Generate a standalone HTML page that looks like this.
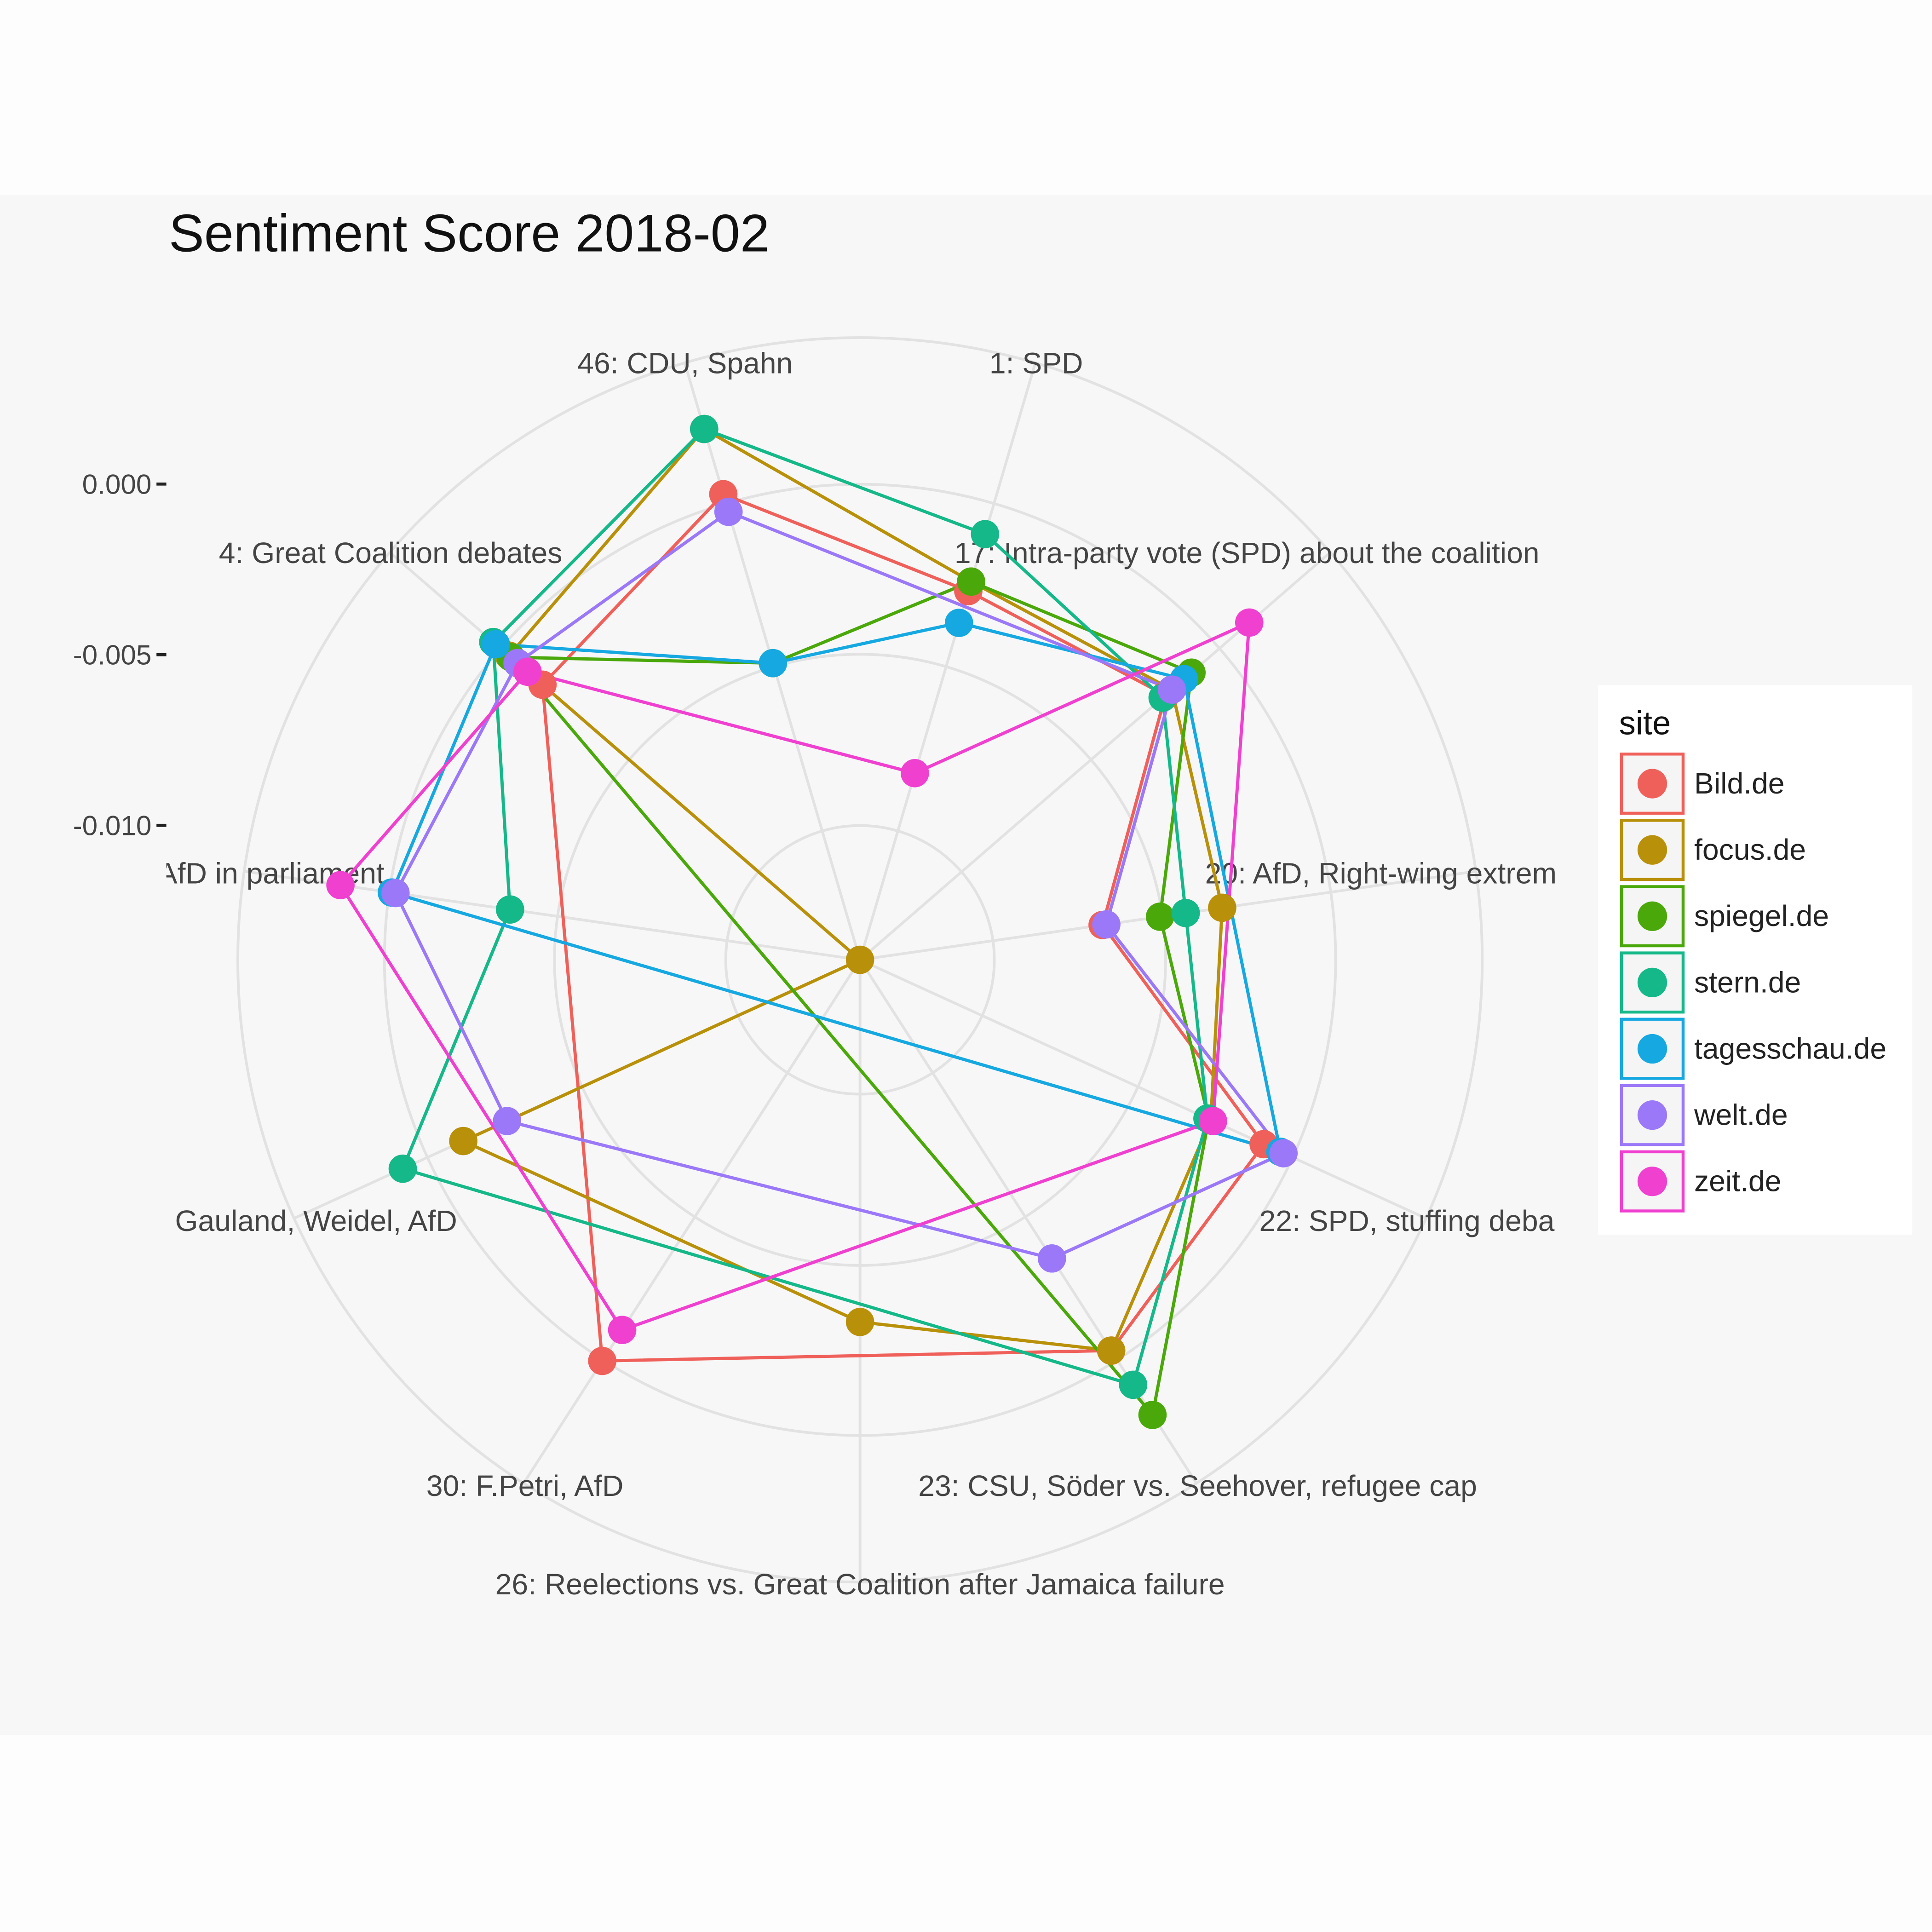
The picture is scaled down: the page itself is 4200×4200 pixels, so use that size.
<!DOCTYPE html>
<html><head><meta charset="utf-8"><style>
html,body{margin:0;padding:0;background:#fdfdfd}
svg{display:block}
text{font-family:"Liberation Sans",sans-serif}
</style></head><body>
<svg id="chart" width="4200" height="4200" viewBox="0 0 1568 1568" xmlns="http://www.w3.org/2000/svg">
<defs><clipPath id="pc"><rect x="135" y="158" width="1127" height="1250"/></clipPath></defs>
<rect x="0" y="0" width="1568" height="1568" fill="#fdfdfd"/>
<rect x="0" y="158" width="1568" height="1250" fill="#f7f7f7"/>
<text x="137" y="204" font-size="43" fill="#111">Sentiment Score 2018-02</text>
<g id="grid"></g>
<g id="yaxis"></g>
<g id="labels" clip-path="url(#pc)"></g>
<g id="lines"></g>
<g id="points"></g>
<g id="legend">
<rect x="1297" y="556" width="255" height="446" fill="#ffffff"/>
<text x="1314" y="596" font-size="27" fill="#111">site</text>
</g>
</svg>
<script>
const categories = ["1: SPD","17: Intra-party vote (SPD) about the coalition","20: AfD, Right-wing extremism","22: SPD, stuffing debate","23: CSU, Söder vs. Seehover, refugee cap","26: Reelections vs. Great Coalition after Jamaica failure","30: F.Petri, AfD","10: Gauland, Weidel, AfD","12: AfD in parliament","4: Great Coalition debates","46: CDU, Spahn"];
const sites = ["Bild.de","focus.de","spiegel.de","stern.de","tagesschau.de","welt.de","zeit.de"];
const bild = [-0.00268,-0.0021,-0.00676,-0.00094,-0.00033,null,0.00003,null,null,-0.00163,0.00028];
const focus = [-0.00239,-0.00185,-0.00322,-0.00264,-0.00033,-0.00333,null,-0.00116,-0.01394,-0.00033,0.00227];
const spiegel = [-0.00239,-0.00109,-0.00506,-0.00271,0.00191,null,null,null,null,-0.0004,-0.00488];
const stern = [-0.00094,-0.00221,-0.0043,-0.00275,0.00086,null,null,0.00079,-0.00358,0.00028,0.00227];
const tagesschau = [-0.00365,-0.00138,null,-0.0004,null,null,null,null,-0.00008,0.00018,-0.00488];
const welt = [null,-0.00185,-0.00665,-0.0003,-0.00354,null,null,-0.00257,-0.00019,-0.00066,-0.00026];
const zeit = [-0.00824,0.00115,null,-0.00257,null,null,-0.00105,null,0.00144,-0.00105,null];
const yTicks = [0.000,-0.005,-0.010];
const yTickLabels = ["0.000","-0.005","-0.010"];

const series = [bild,focus,spiegel,stern,tagesschau,welt,zeit];
const colors = ["#F0605A","#B8900A","#4AA80A","#15B888","#16A8E0","#9A78F8","#F040D0"];
const NS="http://www.w3.org/2000/svg";
const cx=698, cy=779, vMin=-0.01394, scale=27700;
function rScale(v){return (v-vMin)*scale;}
function ang(i){return (16.3636+i*360/categories.length)*Math.PI/180;}
function px(i,v){const r=rScale(v);return [cx+r*Math.sin(ang(i)), cy-r*Math.cos(ang(i))];}
function mk(tag,attrs,parent){const e=document.createElementNS(NS,tag);for(const k in attrs)e.setAttribute(k,attrs[k]);parent.appendChild(e);return e;}

const grid=document.getElementById('grid');
[109,248,386,505].forEach(r=>{
 const c=mk('circle',{cx:cx,cy:cy,r:r,fill:'none',stroke:'#e2e2e2','stroke-width':2.2},grid);
 
 
});
categories.forEach((c,i)=>{
 const l=mk('line',{x1:cx,y1:cy,x2:cx+506*Math.sin(ang(i)),y2:cy-506*Math.cos(ang(i)),stroke:'#e2e2e2','stroke-width':2.2},grid);
 
 
});
const ya=document.getElementById('yaxis');
yTicks.forEach((v,i)=>{
 const y=cy-rScale(v);
 const t=mk('text',{x:123,y:y+8,'font-size':22.5,fill:'#444','text-anchor':'end'},ya);
 t.textContent=yTickLabels[i];
 
 
 const tk=mk('line',{x1:127,y1:y,x2:135,y2:y,stroke:'#222','stroke-width':2.5},ya);
 
 
});
const labPos=[[841,295,'middle'],[1012,449,'middle'],[978,709,'start'],[1022,991,'start'],[972,1206,'middle'],[698,1286,'middle'],[426,1206,'middle'],[371,991,'end'],[312,709,'end'],[317,449,'middle'],[556,295,'middle']];
const lg=document.getElementById('labels');
categories.forEach((c,i)=>{
 const t=mk('text',{x:labPos[i][0],y:labPos[i][1]+8,'font-size':24,fill:'#444','text-anchor':labPos[i][2]},lg);
 t.textContent=c;
 
 
});
const lines=document.getElementById('lines'), pts=document.getElementById('points');
series.forEach((s,k)=>{
 const p=[];s.forEach((v,i)=>{if(v!==null)p.push(px(i,v));});
 const pg=mk('polygon',{points:p.map(q=>q[0].toFixed(1)+','+q[1].toFixed(1)).join(' '),fill:'none',stroke:colors[k],'stroke-width':2.6,'stroke-linejoin':'round'},lines);
 
 
});
series.forEach((s,k)=>{
 s.forEach((v,i)=>{if(v===null)return;const q=px(i,v);
  const c=mk('circle',{cx:q[0],cy:q[1],r:11.5,fill:colors[k]},pts);
  
  
 });
});
const leg=document.getElementById('legend');
sites.forEach((s,k)=>{
 const y=636+k*53.8;
 const b=mk('rect',{x:1316,y:y-24,width:50,height:48,fill:'#f5f5f5',stroke:colors[k],'stroke-width':2.4},leg);
 
 
 const c=mk('circle',{cx:1341,cy:y,r:12,fill:colors[k]},leg);
 
 
 const t=mk('text',{x:1375,y:y+8,'font-size':24,fill:'#222'},leg);
 t.textContent=s;
 
 
});
</script>
</body></html>
